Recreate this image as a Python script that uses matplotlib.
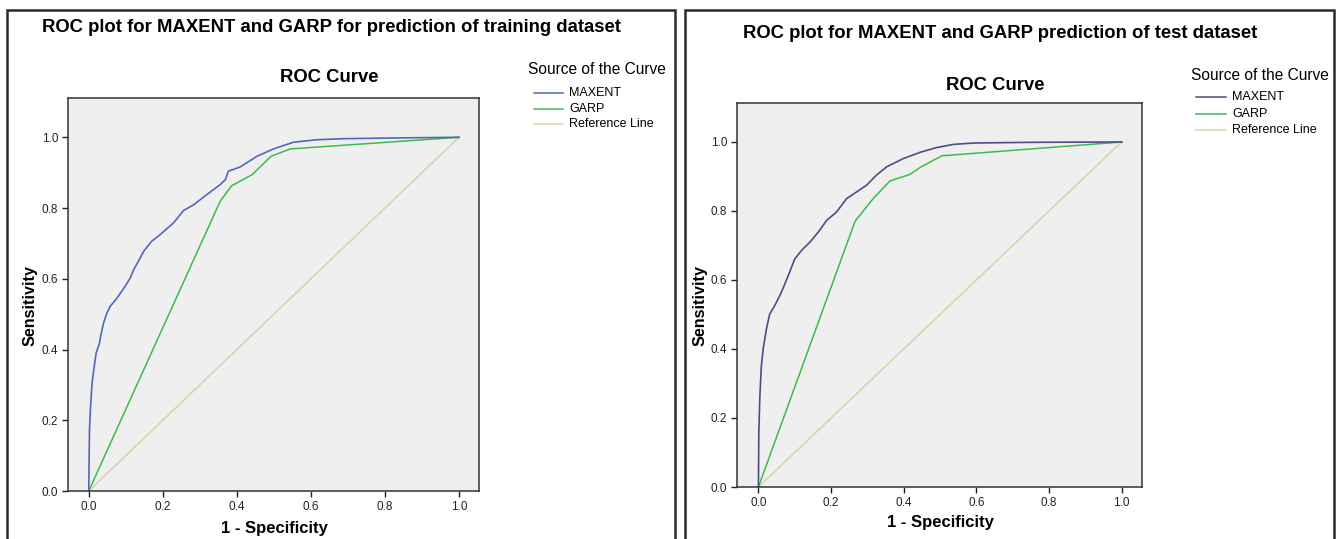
import matplotlib.pyplot as plt
from matplotlib.patches import Rectangle
from matplotlib.lines import Line2D

W, H = 1343, 539

# training dataset (left panel)
train_maxent_fpr = [0, 0.002, 0.005, 0.009, 0.013, 0.020, 0.029, 0.032, 0.040, 0.049, 0.058,
                    0.076, 0.098, 0.112, 0.121, 0.134, 0.148, 0.170, 0.193, 0.229, 0.256,
                    0.283, 0.319, 0.355, 0.369, 0.377, 0.409, 0.454, 0.499, 0.553, 0.616,
                    0.688, 0.823, 1.0]
train_maxent_tpr = [0, 0.173, 0.239, 0.305, 0.338, 0.390, 0.418, 0.437, 0.475, 0.503, 0.522,
                    0.545, 0.578, 0.602, 0.625, 0.649, 0.677, 0.706, 0.725, 0.758, 0.793,
                    0.809, 0.838, 0.866, 0.880, 0.904, 0.916, 0.946, 0.967, 0.986, 0.993,
                    0.996, 0.998, 1.0]
train_garp_fpr = [0, 0.355, 0.386, 0.441, 0.492, 0.544, 1.0]
train_garp_tpr = [0, 0.819, 0.863, 0.894, 0.946, 0.967, 1.0]

# test dataset (right panel)
test_maxent_fpr = [0, 0.001, 0.004, 0.008, 0.013, 0.022, 0.031, 0.045, 0.059, 0.073, 0.086,
                   0.100, 0.119, 0.142, 0.165, 0.188, 0.215, 0.243, 0.270, 0.298, 0.325,
                   0.353, 0.399, 0.445, 0.491, 0.537, 0.592, 0.748, 1.0]
test_maxent_tpr = [0, 0.157, 0.264, 0.351, 0.400, 0.458, 0.501, 0.526, 0.555, 0.589, 0.623,
                   0.661, 0.686, 0.710, 0.739, 0.773, 0.797, 0.836, 0.855, 0.875, 0.904,
                   0.928, 0.952, 0.970, 0.984, 0.993, 0.997, 0.999, 1.0]
test_garp_fpr = [0, 0.266, 0.316, 0.362, 0.417, 0.445, 0.505, 1.0]
test_garp_tpr = [0, 0.770, 0.836, 0.887, 0.906, 0.926, 0.960, 1.0]

ref_line = [0, 1]
ticks = [0.0, 0.2, 0.4, 0.6, 0.8, 1.0]
legend_labels = ["MAXENT", "GARP", "Reference Line"]

GARP_C = "#3dbb4a"
REF_C = "#d9d4a3"

plt.rcParams["font.family"] = ["Liberation Sans", "DejaVu Sans"]


def fx(x):
    return x / W


def fy(y):
    return 1 - y / H


def add_axes(fig, left, top, right, bottom):
    return fig.add_axes([fx(left), fy(bottom), (right - left) / W, (bottom - top) / H])


def draw_panel(fig, box, axbox, xlim, ylim, fpr1, tpr1, fpr2, tpr2, maxent_c, texts):
    fig.patches.append(Rectangle((fx(box[0]), fy(box[3])), (box[2] - box[0]) / W,
                                 (box[3] - box[1]) / H, transform=fig.transFigure,
                                 fill=False, edgecolor="#2a2a2a", linewidth=1.8))
    ax = add_axes(fig, *axbox)
    ax.set_facecolor("#efefef")
    ax.plot(ref_line, ref_line, color=REF_C, linewidth=1.1)
    ax.plot(fpr2, tpr2, color=GARP_C, linewidth=1.1)
    ax.plot(fpr1, tpr1, color=maxent_c, linewidth=1.2)
    ax.set_xlim(*xlim)
    ax.set_ylim(*ylim)
    ax.set_xticks(ticks)
    ax.set_yticks(ticks)
    ax.set_xticklabels([f"{t:.1f}" for t in ticks])
    ax.set_yticklabels([f"{t:.1f}" for t in ticks])
    ax.tick_params(direction="out", length=4, width=1, labelsize=8.5, colors="#222222", pad=3)
    for s in ax.spines.values():
        s.set_color("#333333")
        s.set_linewidth(1.1)

    (tx, ty, title), (cx, cy), (lx, ly), (yx, yy), (sx, sy, e0, estep, lx0, lx1) = texts
    fig.text(fx(tx), fy(ty), title, fontsize=13.3, fontweight="bold", va="center", ha="left")
    fig.text(fx(cx), fy(cy), "ROC Curve", fontsize=13.3, fontweight="bold", va="center", ha="center")
    fig.text(fx(lx), fy(ly), "1 - Specificity", fontsize=12, fontweight="bold", va="center", ha="center")
    fig.text(fx(yx), fy(yy), "Sensitivity", fontsize=11.6, fontweight="bold", va="center",
             ha="center", rotation=90)
    fig.text(fx(sx), fy(sy), "Source of the Curve", fontsize=11.2, va="center", ha="left")
    for i, (lab, c) in enumerate(zip(legend_labels, [maxent_c, GARP_C, REF_C])):
        y = e0 + i * estep
        fig.lines.append(Line2D([fx(lx0), fx(lx1)], [fy(y), fy(y)], color=c, linewidth=1.1,
                                transform=fig.transFigure))
        fig.text(fx(lx1 + 6), fy(y), lab, fontsize=9, va="center", ha="left")
    return ax


def main():
    fig = plt.figure(figsize=(W / 100, H / 100), dpi=100)
    fig.patch.set_facecolor("white")

    draw_panel(fig, (7, 10, 675, 560), (68, 98, 479, 491), (-0.056, 1.054), (0, 1.111),
               train_maxent_fpr, train_maxent_tpr, train_garp_fpr, train_garp_tpr, "#5566bb",
               [(42, 28, "ROC plot for MAXENT and GARP for prediction of training dataset"),
                (329, 78), (274, 528), (30, 305), (528, 70, 93, 15.5, 534, 563)])

    draw_panel(fig, (685, 10, 1334, 560), (737, 103, 1142, 487), (-0.059, 1.056), (0, 1.113),
               test_maxent_fpr, test_maxent_tpr, test_garp_fpr, test_garp_tpr, "#4a4f85",
               [(743, 33, "ROC plot for MAXENT and GARP prediction of test dataset"),
                (995, 85), (940, 523), (700, 305), (1191, 76, 97, 16.5, 1196, 1226)])

    fig.savefig("out.png", dpi=100)


if __name__ == "__main__":
    main()
